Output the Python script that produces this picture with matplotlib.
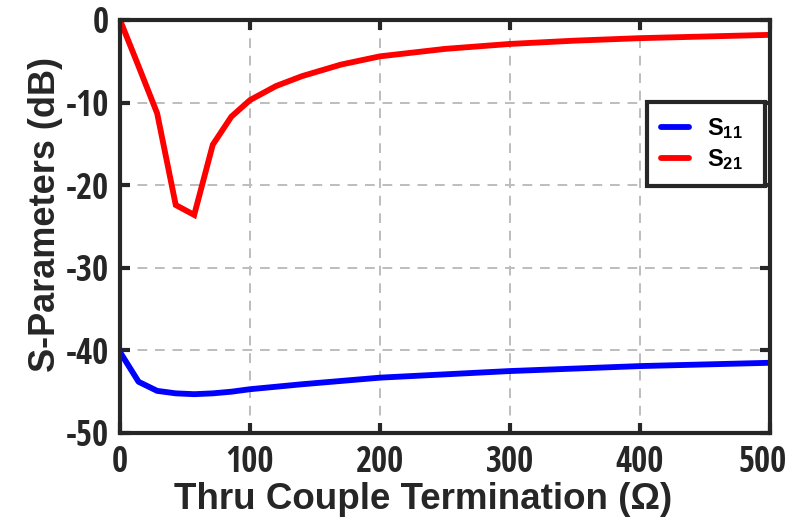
import numpy as np
import matplotlib
matplotlib.use('Agg')
import matplotlib.pyplot as plt
from matplotlib.transforms import ScaledTranslation

# ------------------------------Layout------------------------------
plt.rcParams['font.family'] = ['Liberation Sans', 'DejaVu Sans']
plt.rcParams['font.weight'] = 'bold'
plt.rcParams['axes.unicode_minus'] = False
plt.rcParams['mathtext.fontset'] = 'custom'
plt.rcParams['mathtext.rm'] = 'Liberation Sans:bold'
plt.rcParams['mathtext.it'] = 'Liberation Sans:bold'
plt.rcParams['mathtext.bf'] = 'Liberation Sans:bold'
dark = '#262626'
tick_font = ['Open Sans Condensed', 'Liberation Sans', 'DejaVu Sans']

# ------------------------------Data------------------------------
termination = [0, 14.3, 28.6, 42.9, 57.1, 71.4, 85.7, 100, 120, 140, 170,
               200, 250, 300, 350, 400, 450, 500]
s21 = [0, -5.6, -11.3, -22.4, -23.6, -15.1, -11.7, -9.7, -8.0, -6.8, -5.4,
       -4.4, -3.5, -2.9, -2.5, -2.2, -2.0, -1.8]
s11 = [-40.2, -43.8, -44.9, -45.2, -45.3, -45.2, -45.0, -44.7, -44.4, -44.1, -43.7,
       -43.3, -42.9, -42.5, -42.2, -41.9, -41.7, -41.5]

x_ticks = [0, 100, 200, 300, 400, 500]
y_ticks = [-50, -40, -30, -20, -10, 0]

# ------------------------------Plotting------------------------------
fig = plt.figure(figsize=(7.92, 5.22), dpi=100)
ax = fig.add_axes([0.1515, 0.1705, 0.8205, 0.7912])

ax.plot(termination, s11, color='#0000ff', linewidth=4.2, label=r'S$_{11}$  ',
        solid_joinstyle='round', solid_capstyle='round')
ax.plot(termination, s21, color='#ff0000', linewidth=4.2, label=r'S$_{21}$  ',
        solid_joinstyle='miter', solid_capstyle='round')

ax.set_xlim(0, 500)
ax.set_ylim(-50, 0)
ax.set_xticks(x_ticks)
ax.set_yticks(y_ticks)

ax.grid(True, linestyle=(0, (5, 4)), color='#bdbdbd', linewidth=1.4)
ax.set_axisbelow(True)

for sp in ax.spines.values():
    sp.set_linewidth(3)
    sp.set_color(dark)

ax.tick_params(which='major', direction='in', length=7, width=3, colors=dark,
               top=True, right=True, labelsize=25)
ax.tick_params(axis='x', pad=9)
ax.tick_params(axis='y', pad=8)
for lab in ax.get_xticklabels() + ax.get_yticklabels():
    lab.set_fontweight('bold')
    lab.set_family(tick_font)

# last x label sits a bit inside the figure edge, like the original
last = ax.get_xticklabels()[-1]
last.set_transform(last.get_transform() + ScaledTranslation(-7 / 100, 0, fig.dpi_scale_trans))

ax.set_xlabel('Thru Couple Termination (\u03a9)', fontsize=26.5, fontweight='bold',
              color=dark)
ax.xaxis.set_label_coords(0.466, -0.119)
ax.set_ylabel('S-Parameters (dB)', fontsize=26, fontweight='bold', color=dark)
ax.yaxis.set_label_coords(-0.088, 0.53)

leg = ax.legend(loc='upper right', bbox_to_anchor=(0.992, 0.8015), fontsize=17,
                frameon=True, fancybox=False, edgecolor=dark, framealpha=1,
                handlelength=1.2, handletextpad=0.75, borderpad=0.6,
                labelspacing=0.25, borderaxespad=0)
leg.get_frame().set_linewidth(3)
for t in leg.get_texts():
    t.set_color('black')

fig.savefig('out.png', dpi=100)
